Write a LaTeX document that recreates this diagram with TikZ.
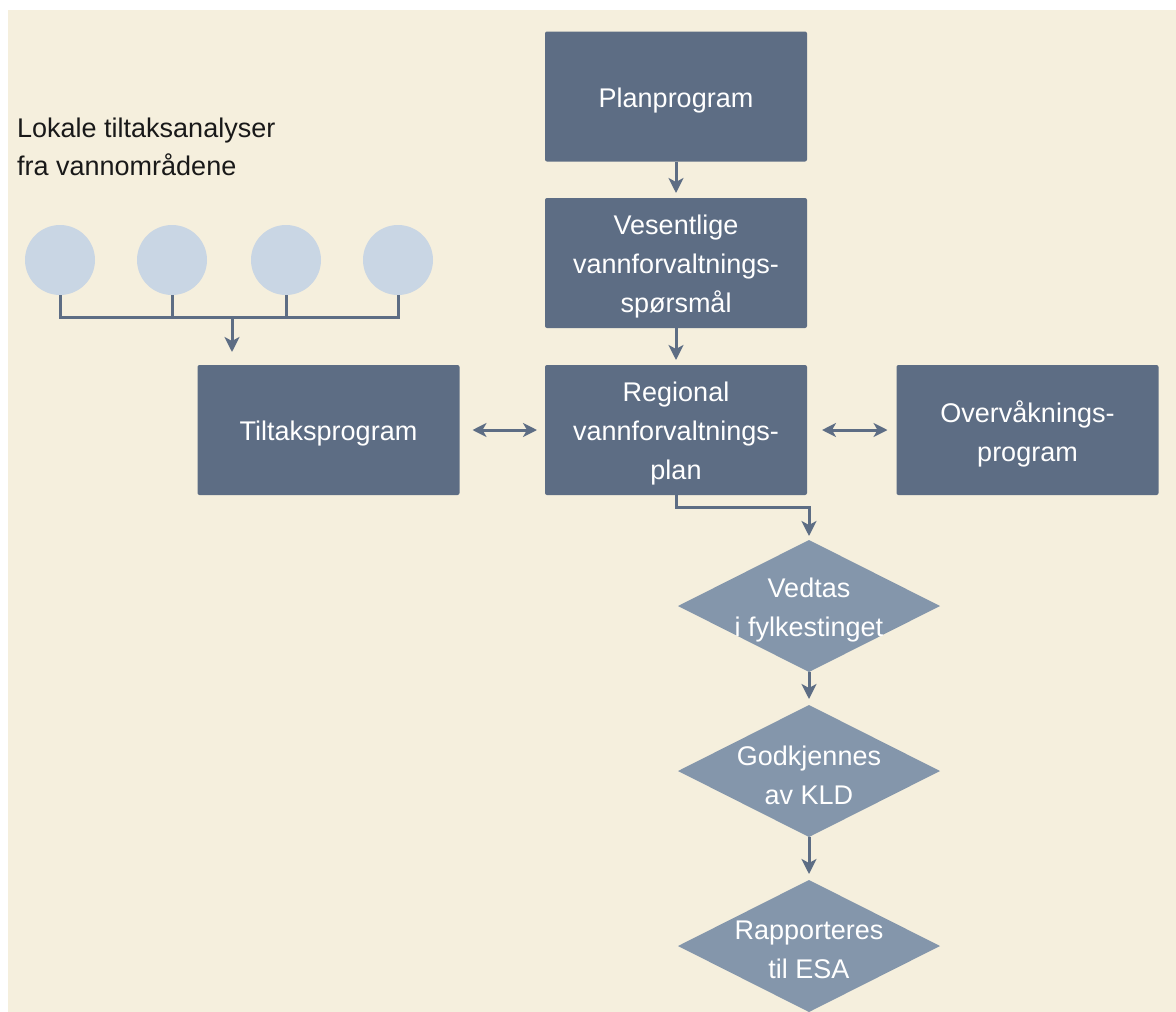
\documentclass[tikz,border=0pt]{standalone}
\usepackage{fontspec}
\setmainfont{Liberation Sans}
\usetikzlibrary{arrows.meta,shapes.geometric}
\definecolor{bgcream}{HTML}{F5EFDD}
\definecolor{boxslate}{HTML}{5D6D84}
\definecolor{diaslate}{HTML}{8496AB}
\definecolor{circblue}{HTML}{C9D6E4}
\tikzset{
  box/.style={fill=boxslate, draw=none, rounded corners=2pt, minimum width=262pt, minimum height=130pt, inner sep=0pt, outer sep=0pt},
  dia/.style={diamond, fill=diaslate, draw=none, minimum width=262pt, minimum height=132pt, inner sep=0pt, outer sep=0pt},
  circ/.style={circle, fill=circblue, draw=none, minimum size=70pt, inner sep=0pt, outer sep=0pt},
  wtxt/.style={text=white, align=center, font=\fontsize{27}{39}\selectfont, yshift=-4pt},
  btxt/.style={text=black!90, align=left, font=\fontsize{27}{38}\selectfont},
  conn/.style={draw=boxslate, line width=3pt},
  arr/.style={conn, -{Stealth[length=15pt, width=15pt, inset=4pt]}},
  darr/.style={conn, {Stealth[length=14pt, width=14pt, inset=4pt]}-{Stealth[length=14pt, width=14pt, inset=4pt]}}
}
\begin{document}
\begin{tikzpicture}[x=1pt,y=-1pt]
\useasboundingbox (0,0) rectangle (1176,1012);
\fill[white] (0,0) rectangle (1176,1012);
\fill[bgcream] (8,10) rectangle (1176,1012);

% text top-left
\node[btxt, anchor=base west, inner sep=0pt] (lokale) at (17,175) {Lokale tiltaksanalyser\\fra vannområdene};

% circles
\node[circ] (c1) at (60,260) {};
\node[circ] (c2) at (172,260) {};
\node[circ] (c3) at (286,260) {};
\node[circ] (c4) at (398,260) {};
\coordinate (bus) at (232,317);

% boxes
\node[box] (plan) at (676,96.5) {};
\node[wtxt] at (plan) {Planprogram};
\node[box] (ves) at (676,263) {};
\node[wtxt] at (ves) {Vesentlige\\vannforvaltnings-\\spørsmål};
\node[box] (reg) at (676,430) {};
\node[wtxt] at (reg) {Regional\\vannforvaltnings-\\plan};
\node[box] (tilt) at (328.5,430) {};
\node[wtxt] at (tilt) {Tiltaksprogram};
\node[box] (overv) at (1027.5,430) {};
\node[wtxt] at (overv) {Overvåknings-\\program};

% diamonds
\node[dia] (d1) at (809,606) {};
\node[wtxt] at (d1) {Vedtas\\i fylkestinget};
\node[dia] (d2) at (809,771) {};
\node[wtxt] at (d2) {Godkjennes\\av KLD};
\node[dia] (d3) at (809,946) {};
\node[wtxt] at (d3) {Rapporteres\\til ESA};

% circle connectors
\draw[conn] (c1.south) -- (c1.south |- bus) -- (c4.south |- bus) -- (c4.south);
\draw[conn] (c2.south) -- (c2.south |- bus);
\draw[conn] (c3.south) -- (c3.south |- bus);
\draw[arr, shorten >=13pt] (bus) -- (bus |- tilt.north);

% vertical chain
\draw[arr, shorten >=5pt] (plan.south) -- (ves.north);
\draw[arr, shorten >=5pt] (ves.south) -- (reg.north);
\draw[arr, shorten >=4pt] (reg.south) -- ++(0,12) -| (d1.north);
\draw[arr, shorten >=6pt] (d1.south) -- (d2.north);
\draw[arr, shorten >=6pt] (d2.south) -- (d3.north);

% double arrows
\draw[darr, shorten <=13pt, shorten >=8pt] (tilt.east) -- (reg.west);
\draw[darr, shorten <=15pt, shorten >=9pt] (reg.east) -- (overv.west);
\end{tikzpicture}
\end{document}
